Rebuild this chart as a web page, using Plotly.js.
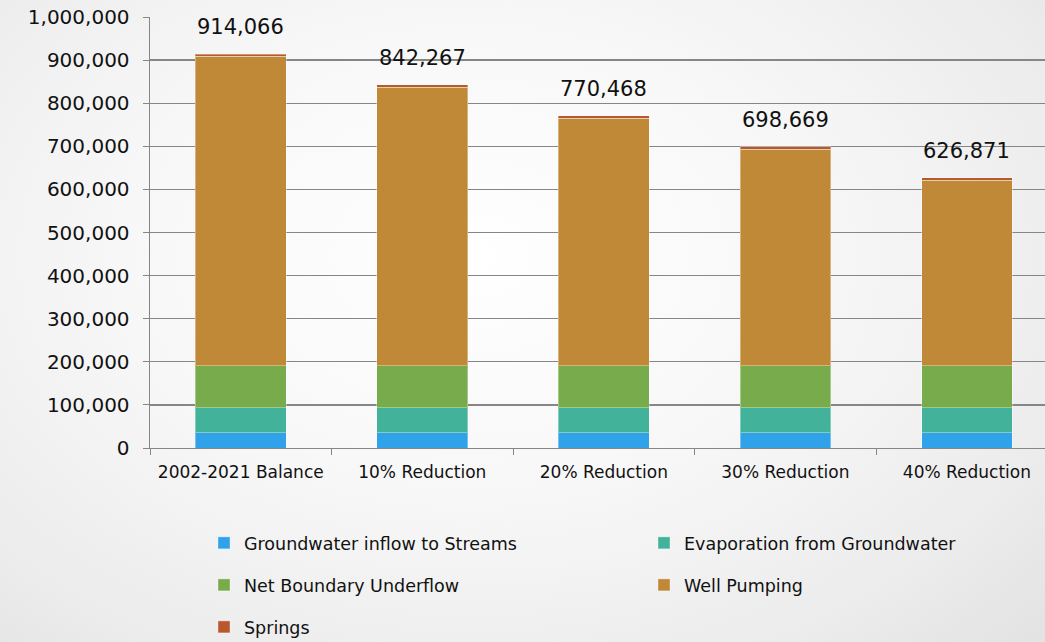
<!DOCTYPE html>
<html>
<head>
<meta charset="utf-8">
<script src="https://cdn.plot.ly/plotly-3.0.1.min.js"></script>
<style>
html,body{margin:0;padding:0;width:1045px;height:642px;overflow:hidden;}
body{background:radial-gradient(ellipse 75% 85% at 45% 40%, #ffffff 0%, #f7f7f7 45%, #ececec 80%, #e3e3e3 100%);}
#chart{width:1045px;height:642px;}
</style>
</head>
<body>
<div id="chart"></div>
<script>
const scenarios = ["2002-2021 Balance", "10% Reduction", "20% Reduction", "30% Reduction", "40% Reduction"];
const streams   = [35000, 35000, 35000, 35000, 35000];
const evaporation = [58500, 58500, 58500, 58500, 58500];
const boundary  = [97000, 97000, 97000, 97000, 97000];
const pumping   = [717990, 646191, 574392, 502593, 430795];
const springs   = [5576, 5576, 5576, 5576, 5576];
const totals    = [914066, 842267, 770468, 698669, 626871];
const totalLabels = ["914,066", "842,267", "770,468", "698,669", "626,871"];

const FONT = "DejaVu Sans, sans-serif";
const series = [
  {name: "Groundwater inflow to Streams", y: streams, color: "#2FA2EA", legend: "legend"},
  {name: "Evaporation from Groundwater", y: evaporation, color: "#42B39A", legend: "legend2"},
  {name: "Net Boundary Underflow", y: boundary, color: "#77AB4B", legend: "legend3"},
  {name: "Well Pumping", y: pumping, color: "#C08937", legend: "legend4"},
  {name: "Springs", y: springs, color: "#B9582C", legend: "legend5"}
];

const traces = series.map(s => ({
  type: "bar",
  name: s.name,
  x: scenarios,
  y: s.y,
  legend: s.legend,
  marker: {color: s.color, line: {color: "rgba(255,255,255,0.35)", width: 1}},
  hoverinfo: "name+y"
}));

const annotations = scenarios.map((c, i) => ({
  x: c, y: totals[i], xref: "x", yref: "y",
  text: totalLabels[i], showarrow: false,
  yanchor: "bottom", yshift: 13,
  font: {family: FONT, size: 21, color: "#111111"}
}));

const ML = 150, MT = 17, PW = 895, PH = 431;
function leg(xpx, ypx) {
  return {
    xref: "paper", yref: "paper",
    x: (xpx - ML) / PW, y: (MT + PH - ypx) / PH,
    xanchor: "left", yanchor: "middle",
    orientation: "h",
    bgcolor: "rgba(0,0,0,0)", borderwidth: 0,
    itemwidth: 30,
    font: {family: FONT, size: 17.5, color: "#111111"}
  };
}

const layout = {
  width: 1045, height: 642,
  margin: {l: ML, r: 0, t: MT, b: 642 - MT - PH, autoexpand: false},
  paper_bgcolor: "rgba(0,0,0,0)",
  plot_bgcolor: "rgba(0,0,0,0)",
  barmode: "stack",
  bargap: 0.5,
  font: {family: FONT, color: "#111111"},
  xaxis: {
    type: "category",
    range: [-0.5, 4.43],
    automargin: false,
    showline: true, linecolor: "#868686", linewidth: 1.4,
    ticks: "outside", tickson: "boundaries", ticklen: 6, tickcolor: "#868686",
    ticklabelstandoff: 8,
    tickfont: {family: FONT, size: 17, color: "#111111"},
    tickangle: 0,
    showgrid: false, zeroline: false
  },
  yaxis: {
    range: [0, 1000000], dtick: 100000, tickformat: ",d",
    automargin: false,
    showline: true, linecolor: "#868686", linewidth: 1.4,
    ticks: "outside", ticklen: 6, tickcolor: "#868686",
    ticklabelstandoff: 9,
    showgrid: true, gridcolor: "#868686", gridwidth: 1.4,
    zeroline: false,
    tickfont: {family: FONT, size: 20, color: "#111111"}
  },
  showlegend: true,
  legend: leg(204, 543),
  legend2: leg(644, 543),
  legend3: leg(204, 585),
  legend4: leg(644, 585),
  legend5: leg(204, 627),
  annotations: annotations
};

Plotly.newPlot("chart", traces, layout, {displayModeBar: false, staticPlot: true});
</script>
</body>
</html>
